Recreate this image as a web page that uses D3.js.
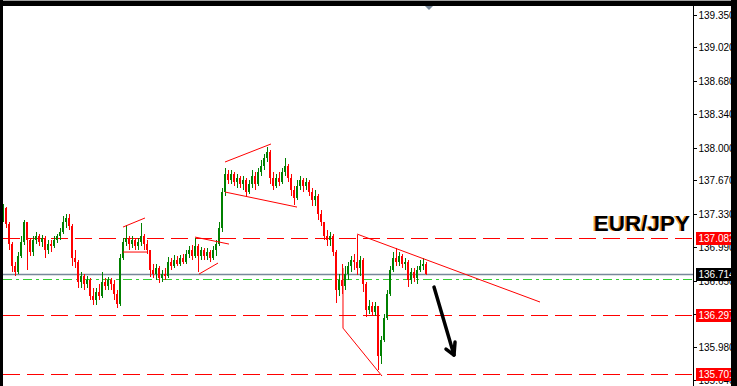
<!DOCTYPE html>
<html>
<head>
<meta charset="utf-8">
<script src="https://cdn.jsdelivr.net/npm/d3@7"></script>
<style>
  html, body { margin: 0; padding: 0; background: #fff; overflow: hidden; }
  svg { display: block; }
  text { font-family: "Liberation Sans", Arial, sans-serif; }
</style>
</head>
<body>
<div id="chart"></div>
<script>
// EUR/JPY price bars (one bar every 3px)
const firstOpen = 137.266;
const closes = [
  137.388, 137.226, 137.022, 136.799, 136.738, 136.900, 137.043, 137.246, 137.063, 136.941,
  137.063, 137.104, 137.043, 137.083, 136.961, 137.022, 137.002, 137.063, 137.104, 137.144,
  137.246, 137.287, 137.205, 136.880, 136.839, 136.636, 136.697, 136.616, 136.656, 136.494,
  136.453, 136.534, 136.494, 136.636, 136.595, 136.656, 136.616, 136.514, 136.412, 136.880,
  137.043, 137.083, 137.022, 137.063, 137.002, 137.043, 137.104, 137.022, 136.961, 136.758,
  136.717, 136.778, 136.677, 136.717, 136.697, 136.839, 136.799, 136.860, 136.819, 136.880,
  136.839, 136.921, 136.961, 136.900, 137.002, 136.900, 136.961, 136.900, 136.941, 136.880,
  136.961, 137.022, 137.185, 137.551, 137.734, 137.673, 137.734, 137.652, 137.693, 137.632,
  137.673, 137.551, 137.632, 137.713, 137.632, 137.754, 137.815, 137.896, 137.957, 137.693,
  137.612, 137.693, 137.652, 137.754, 137.815, 137.693, 137.571, 137.490, 137.612, 137.673,
  137.612, 137.652, 137.551, 137.469, 137.510, 137.327, 137.246, 137.104, 137.063, 137.104,
  136.941, 136.555, 136.656, 136.595, 136.717, 136.799, 136.860, 136.839, 136.778, 136.860,
  136.616, 136.352, 136.392, 136.331, 136.392, 135.884, 136.047, 136.270, 136.514, 136.758,
  136.880, 136.839, 136.900, 136.819, 136.839, 136.656, 136.738, 136.677, 136.758, 136.799,
  136.819, 136.714
];
const highs = [
  137.429, 137.398, 137.246, 137.043, 136.839, 136.941, 137.104, 137.266, 137.205, 137.083,
  137.104, 137.144, 137.124, 137.114, 137.104, 137.063, 137.063, 137.104, 137.124, 137.185,
  137.307, 137.327, 137.327, 137.226, 136.961, 136.860, 136.738, 136.717, 136.697, 136.677,
  136.575, 136.575, 136.616, 136.738, 136.677, 136.687, 136.677, 136.656, 136.555, 136.921,
  137.083, 137.215, 137.104, 137.104, 137.083, 137.083, 137.236, 137.124, 137.063, 136.961,
  136.819, 136.819, 136.799, 136.758, 136.778, 136.890, 136.880, 136.910, 136.900, 136.910,
  136.921, 136.961, 137.002, 137.012, 137.083, 137.022, 136.992, 136.982, 136.982, 136.961,
  137.002, 137.063, 137.246, 137.591, 137.795, 137.774, 137.774, 137.754, 137.734, 137.713,
  137.713, 137.693, 137.673, 137.774, 137.754, 137.795, 137.876, 137.937, 138.008, 137.978,
  137.754, 137.734, 137.754, 137.795, 137.896, 137.835, 137.734, 137.612, 137.673, 137.713,
  137.693, 137.693, 137.673, 137.591, 137.571, 137.530, 137.368, 137.246, 137.165, 137.144,
  137.124, 136.961, 136.717, 136.819, 136.799, 136.839, 136.900, 136.921, 137.114, 136.900,
  136.880, 136.636, 136.453, 136.433, 136.433, 136.392, 136.087, 136.311, 136.555, 136.799,
  136.941, 136.982, 136.941, 136.921, 136.880, 136.860, 136.778, 136.778, 136.799, 136.860,
  136.880, 136.839
];
const lows = [
  137.246, 137.185, 136.961, 136.738, 136.697, 136.717, 136.880, 137.012, 136.758, 136.900,
  136.900, 137.022, 137.002, 136.992, 136.880, 136.921, 136.941, 136.982, 137.032, 137.063,
  137.124, 137.185, 137.165, 136.799, 136.778, 136.575, 136.575, 136.555, 136.575, 136.453,
  136.402, 136.402, 136.453, 136.473, 136.555, 136.555, 136.555, 136.453, 136.372, 136.392,
  136.860, 137.002, 136.961, 136.982, 136.961, 136.961, 137.002, 136.961, 136.921, 136.687,
  136.677, 136.656, 136.626, 136.636, 136.656, 136.677, 136.758, 136.778, 136.799, 136.799,
  136.819, 136.819, 136.880, 136.860, 136.880, 136.738, 136.860, 136.860, 136.860, 136.839,
  136.860, 136.900, 137.002, 137.144, 137.510, 137.632, 137.632, 137.612, 137.591, 137.591,
  137.571, 137.510, 137.530, 137.591, 137.571, 137.612, 137.713, 137.774, 137.856, 137.632,
  137.571, 137.591, 137.612, 137.632, 137.713, 137.652, 137.510, 137.419, 137.469, 137.571,
  137.551, 137.571, 137.510, 137.408, 137.408, 137.266, 137.205, 137.063, 137.002, 137.002,
  136.900, 136.423, 136.494, 136.514, 136.555, 136.656, 136.738, 136.758, 136.707, 136.697,
  136.534, 136.281, 136.311, 136.291, 136.291, 135.742, 135.803, 136.026, 136.250, 136.494,
  136.738, 136.799, 136.799, 136.778, 136.758, 136.585, 136.616, 136.636, 136.616, 136.738,
  136.758, 136.707
];

// horizontal levels
const redLevels = [137.082, 136.297, 135.701];
const bidPrice = 136.714;
const greenLevel = 136.667;
const tickValues = [139.35, 139.02, 138.68, 138.34, 138.00, 137.67, 137.33, 136.99, 136.65, 136.31, 135.98, 135.64];

// hand-drawn objects as [bar index, price]
const trendLines = [
  [[40, 137.195], [47.33, 137.287]],
  [[40, 136.941], [48.33, 136.941]],
  [[74, 137.856], [89.33, 138.039]],
  [[74, 137.551], [98, 137.398]],
  [[64, 137.093], [75.33, 137.022]],
  [[65.33, 136.717], [71.67, 136.829]],
  [[118, 137.124], [179, 136.433]],
  [[113.33, 136.778], [113.33, 136.168], [126.33, 135.681]]
];
const arrowShaft = [[143.67, 136.585], [147, 136.24], [150.33, 135.894]];
const arrowHead = [[147.67, 135.955], [150.33, 135.894], [150.67, 136.026]];

const width = 737, height = 386;
const plotRight = 693;

const svg = d3.select('#chart').append('svg')
  .attr('width', width)
  .attr('height', height);

svg.append('rect').attr('width', width).attr('height', height).attr('fill', '#fff');

const x = d3.scaleLinear().domain([0, 230]).range([3, 693]);
const y = d3.scaleLinear().domain([139.35, 135.98]).range([15, 346.6]);
const py = v => Math.round(y(v)) + 0.5;

svg.append('defs').append('clipPath').attr('id', 'clip')
  .append('rect').attr('x', 3).attr('y', 6).attr('width', plotRight - 3).attr('height', height - 6);

const plot = svg.append('g').attr('clip-path', 'url(#clip)');

// level lines
plot.selectAll('.lvl')
  .data(redLevels)
  .enter().append('line')
  .attr('x1', 3).attr('x2', plotRight)
  .attr('y1', d => py(d)).attr('y2', d => py(d))
  .attr('stroke', '#ff0000')
  .attr('stroke-width', 1)
  .attr('stroke-dasharray', '17,7')
  .attr('shape-rendering', 'crispEdges');

plot.append('line')
  .attr('x1', 3).attr('x2', plotRight)
  .attr('y1', py(greenLevel)).attr('y2', py(greenLevel))
  .attr('stroke', '#32cd32')
  .attr('stroke-dasharray', '9,4,3,4')
  .attr('shape-rendering', 'crispEdges');

plot.append('line')
  .attr('x1', 3).attr('x2', plotRight)
  .attr('y1', py(bidPrice)).attr('y2', py(bidPrice))
  .attr('stroke', '#778899')
  .attr('stroke-width', 1.5);

// candles
const bars = closes.map((c, i) => ({
  i: i,
  o: i === 0 ? firstOpen : closes[i - 1],
  c: c,
  h: highs[i],
  l: lows[i]
}));

const candle = plot.selectAll('.bar')
  .data(bars)
  .enter().append('g')
  .attr('shape-rendering', 'crispEdges');

candle.append('rect')
  .attr('x', d => Math.round(x(d.i)))
  .attr('width', 1)
  .attr('y', d => Math.round(y(d.h)))
  .attr('height', d => Math.max(1, Math.round(y(d.l)) - Math.round(y(d.h))))
  .attr('fill', d => d.c >= d.o ? '#008000' : '#ff0000');

candle.append('rect')
  .attr('x', d => Math.round(x(d.i)) - 1)
  .attr('width', 2)
  .attr('y', d => Math.round(y(Math.max(d.o, d.c))))
  .attr('height', d => Math.max(1, Math.round(y(Math.min(d.o, d.c))) - Math.round(y(Math.max(d.o, d.c)))))
  .attr('fill', d => d.c >= d.o ? '#008000' : '#ff0000');

// trend lines
const line = d3.line().x(d => x(d[0])).y(d => y(d[1]));
plot.selectAll('.trend')
  .data(trendLines)
  .enter().append('path')
  .attr('d', line)
  .attr('fill', 'none')
  .attr('stroke', '#ff0000')
  .attr('stroke-width', 1);

// arrow
[arrowShaft, arrowHead].forEach(pts => {
  plot.append('path')
    .attr('d', line(pts))
    .attr('fill', 'none')
    .attr('stroke', '#000')
    .attr('stroke-width', 3.5)
    .attr('stroke-linecap', 'round')
    .attr('stroke-linejoin', 'round');
});

// title
const tx = 690, ty = 231;
svg.append('text')
  .attr('x', tx - 1.5).attr('y', ty)
  .attr('text-anchor', 'end')
  .attr('font-size', 22.5).attr('font-weight', 'bold')
  .attr('fill', '#f0a040')
  .text('EUR/JPY');
svg.append('text')
  .attr('x', tx).attr('y', ty)
  .attr('text-anchor', 'end')
  .attr('font-size', 22.5).attr('font-weight', 'bold')
  .attr('fill', '#000')
  .text('EUR/JPY');

// price axis
svg.append('line')
  .attr('x1', plotRight + 0.5).attr('x2', plotRight + 0.5)
  .attr('y1', 6).attr('y2', height)
  .attr('stroke', '#000')
  .attr('shape-rendering', 'crispEdges');

const ticks = svg.append('g');
ticks.selectAll('line')
  .data(tickValues)
  .enter().append('line')
  .attr('x1', plotRight).attr('x2', plotRight + 4)
  .attr('y1', d => py(d)).attr('y2', d => py(d))
  .attr('stroke', '#000')
  .attr('shape-rendering', 'crispEdges');
ticks.selectAll('text')
  .data(tickValues)
  .enter().append('text')
  .attr('x', 698.5)
  .attr('y', d => y(d) + 4)
  .attr('font-size', 10)
  .attr('fill', '#000')
  .text(d => d.toFixed(3));

// price boxes
const boxes = redLevels.map(v => ({ v: v, bg: '#ff0000' })).concat([{ v: bidPrice, bg: '#000' }]);
const box = svg.selectAll('.box')
  .data(boxes)
  .enter().append('g');
box.append('rect')
  .attr('x', 696).attr('width', 40)
  .attr('y', d => Math.round(y(d.v)) - 6).attr('height', 13)
  .attr('fill', d => d.bg);
box.append('text')
  .attr('x', 698.5)
  .attr('y', d => Math.round(y(d.v)) + 4)
  .attr('font-size', 10)
  .attr('fill', '#fff')
  .text(d => d.v.toFixed(3));

// frame
svg.append('rect').attr('x', 0).attr('y', 0).attr('width', width).attr('height', 1).attr('fill', '#a0a0a0');
svg.append('rect').attr('x', 0).attr('y', 1).attr('width', width).attr('height', 5).attr('fill', '#000');
svg.append('rect').attr('x', 0).attr('y', 0).attr('width', 3).attr('height', height).attr('fill', '#000');
svg.append('rect').attr('x', 731).attr('y', 0).attr('width', 6).attr('height', height).attr('fill', '#000');

// chart shift marker
const sx = x(closes.length);
svg.append('path')
  .attr('d', `M${sx - 4},6L${sx + 4},6L${sx},10Z`)
  .attr('fill', '#778899');
</script>
</body>
</html>
